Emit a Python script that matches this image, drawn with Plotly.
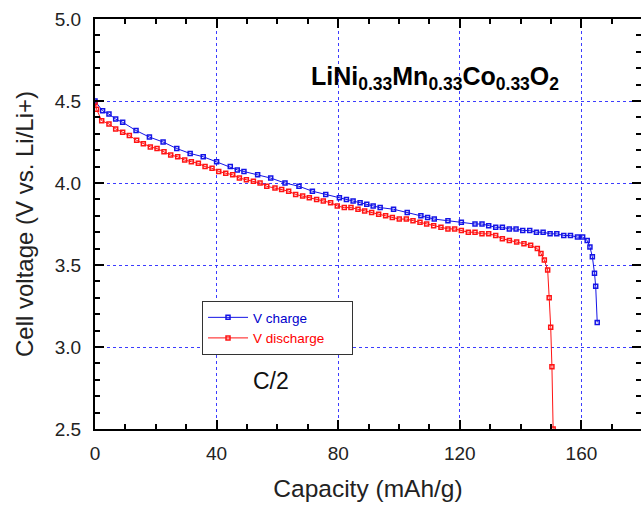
import plotly.graph_objects as go

# Charge curve (blue)
charge_cap = [0, 2.5, 4.6, 6.8, 9.1, 13.5, 17.9, 22.4, 26.9, 31.3,
              35.6, 40, 44.5, 46.8, 49, 53.5, 57.8, 62.5, 67.1, 71.5,
              75.9, 80.4, 82.7, 84.9, 87.2, 89.4, 91.5, 93.8, 98.2, 102.7,
              107.2, 109.4, 111.6, 116.1, 120.5, 125, 127.3, 129.5, 131.8, 134,
              136.3, 138.5, 140.7, 143, 145.2, 147.4, 149.7, 151.9, 154.2, 156.4,
              158.7, 160.4, 161.9, 162.8, 163.6, 164.3, 164.7, 165.2]
charge_v = [4.50, 4.44, 4.42, 4.39, 4.37, 4.32, 4.28, 4.25, 4.21, 4.18,
            4.16, 4.13, 4.10, 4.08, 4.07, 4.05, 4.03, 4.00, 3.98, 3.95,
            3.93, 3.91, 3.90, 3.89, 3.88, 3.87, 3.86, 3.85, 3.84, 3.82,
            3.80, 3.79, 3.78, 3.77, 3.76, 3.75, 3.75, 3.74, 3.73, 3.73,
            3.72, 3.72, 3.71, 3.71, 3.70, 3.70, 3.69, 3.69, 3.68, 3.68,
            3.67, 3.67, 3.65, 3.61, 3.55, 3.45, 3.37, 3.15]

# Discharge curve (red)
discharge_cap = [0, 0.5, 2.2, 4.6, 6.8, 9.1, 11.3, 13.7, 15.9, 18.2,
                 20.4, 22.7, 24.9, 27.2, 29.5, 31.7, 34, 36.2, 38.5, 40.7,
                 43, 45.3, 47.5, 49.8, 52.1, 54.3, 56.5, 59.2, 61.4, 63.7,
                 66, 68.3, 70.5, 72.9, 75.1, 77.5, 79.7, 82, 84.2, 86.5,
                 88.7, 91, 93.3, 95.6, 97.8, 100.1, 102.4, 104.6, 106.9, 109.1,
                 111.4, 113.8, 116.1, 118.3, 120.5, 122.8, 125, 127.3, 129.5, 131.8,
                 134, 136.3, 138.7, 141.1, 143.3, 145.5, 146.7, 147.8, 148.9, 149.4,
                 149.9, 150.3, 150.7]
discharge_v = [4.49, 4.45, 4.38, 4.36, 4.33, 4.31, 4.29, 4.26, 4.24, 4.22,
               4.21, 4.19, 4.17, 4.16, 4.14, 4.13, 4.12, 4.10, 4.09, 4.07,
               4.06, 4.05, 4.03, 4.02, 4.01, 4.00, 3.98, 3.97, 3.96, 3.95,
               3.93, 3.92, 3.91, 3.90, 3.89, 3.88, 3.86, 3.85, 3.85, 3.84,
               3.83, 3.82, 3.81, 3.80, 3.79, 3.78, 3.78, 3.77, 3.76, 3.75,
               3.74, 3.73, 3.72, 3.72, 3.71, 3.70, 3.70, 3.69, 3.69, 3.68,
               3.66, 3.65, 3.64, 3.63, 3.62, 3.60, 3.57, 3.53, 3.47, 3.30,
               3.12, 2.88, 2.50]

series_names = ["V charge", "V discharge"]
x_ticks = [0, 40, 80, 120, 160]
y_ticks = [2.5, 3.0, 3.5, 4.0, 4.5, 5.0]
x_range = [0, 179.6]
y_range = [2.5, 5.0]

FONT = "Liberation Sans, Arial, Helvetica, sans-serif"
BLUE = "#1414e6"
RED = "#ff1414"
GRID = "#3c3cff"
PAD = "&nbsp;" * 6

fig = go.Figure()
fig.add_trace(go.Scatter(
    x=charge_cap, y=charge_v, mode="lines+markers",
    name=f"<span style='color:#0000cc'>{series_names[0]}</span>{PAD}",
    line=dict(color=BLUE, width=1),
    marker=dict(symbol="square-open", size=4, color=BLUE, line=dict(width=1.5, color=BLUE)),
))
fig.add_trace(go.Scatter(
    x=discharge_cap, y=discharge_v, mode="lines+markers",
    name=f"<span style='color:#ff0000'>{series_names[1]}</span>{PAD}",
    line=dict(color=RED, width=1),
    marker=dict(symbol="square-open", size=4, color=RED, line=dict(width=1.5, color=RED)),
))

axis_common = dict(
    showline=True, linecolor="black", linewidth=2,
    ticks="inside", ticklen=9, tickwidth=2, tickcolor="black",
    zeroline=False,
    tickfont=dict(family=FONT, size=19, color="#222"),
)

fig.update_layout(
    template="none",
    width=641, height=505,
    margin=dict(l=95, r=0, t=19, b=76),
    paper_bgcolor="white", plot_bgcolor="white",
    font=dict(family=FONT, color="black"),
    xaxis=dict(
        range=x_range, tickvals=x_ticks, **axis_common,
        showgrid=True, gridcolor=GRID, gridwidth=1, griddash="3px,3px",
        minor=dict(dtick=10, tick0=0, ticks="inside", ticklen=5, tickwidth=2, tickcolor="black", showgrid=False),
        title=dict(text="Capacity (mAh/g)", font=dict(family=FONT, size=24.5, color="#222"), standoff=17),
        ticklabelstandoff=6,
    ),
    yaxis=dict(
        range=y_range, tickvals=y_ticks, tickformat=".1f", **axis_common,
        showgrid=True, gridcolor=GRID, gridwidth=1, griddash="3px,3px",
        minor=dict(dtick=0.1, tick0=2.5, ticks="inside", ticklen=5, tickwidth=2, tickcolor="black", showgrid=False),
        title=dict(text="Cell voltage (V vs. Li/Li+)", font=dict(family=FONT, size=24, color="#222"), standoff=14),
        ticklabelstandoff=8,
    ),
    xaxis2=dict(
        overlaying="x", side="top", range=x_range, tickvals=x_ticks,
        showline=True, linecolor="black", linewidth=2,
        ticks="inside", ticklen=9, tickwidth=2, tickcolor="black",
        showticklabels=False, showgrid=False, zeroline=False,
        minor=dict(dtick=10, tick0=0, ticks="inside", ticklen=5, tickwidth=2, tickcolor="black", showgrid=False),
    ),
    yaxis2=dict(
        overlaying="y", side="right", range=y_range, tickvals=y_ticks,
        showline=False,
        ticks="inside", ticklen=9, tickwidth=2, tickcolor="black",
        showticklabels=False, showgrid=False, zeroline=False,
        minor=dict(dtick=0.1, tick0=2.5, ticks="inside", ticklen=5, tickwidth=2, tickcolor="black", showgrid=False),
    ),
    legend=dict(
        x=0.196, y=0.312, xanchor="left", yanchor="top",
        bgcolor="white", bordercolor="#333", borderwidth=1,
        font=dict(family=FONT, size=13.5),
        tracegroupgap=0, itemwidth=40,
    ),
    showlegend=True,
)

fig.add_trace(go.Scatter(x=[None], y=[None], xaxis="x2", yaxis="y2", showlegend=False, hoverinfo="skip"))

fig.add_annotation(
    x=0.623, y=0.855, xref="paper", yref="paper", xanchor="center", yanchor="middle",
    text="<b>LiNi<sub>0.33</sub>Mn<sub>0.33</sub>Co<sub>0.33</sub>O<sub>2</sub></b>",
    showarrow=False, font=dict(family=FONT, size=25, color="black"),
)
fig.add_annotation(
    x=0.322, y=0.116, xref="paper", yref="paper", xanchor="center", yanchor="middle",
    text="C/2", showarrow=False, font=dict(family=FONT, size=23, color="#111"),
)

fig.write_html("out.html")
